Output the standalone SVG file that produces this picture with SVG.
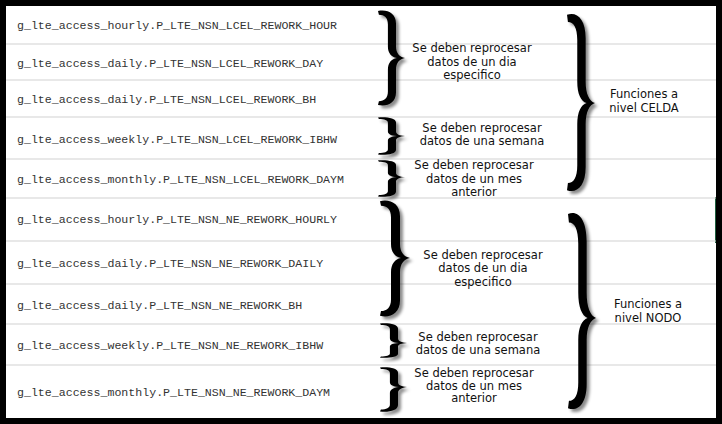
<svg xmlns="http://www.w3.org/2000/svg" xmlns:xlink="http://www.w3.org/1999/xlink" width="722" height="424" viewBox="0 0 722 424">
<style>
.row{font-family:"Liberation Mono","DejaVu Sans Mono",monospace;font-size:11.6px;fill:#333}
.lbl{font-family:"DejaVu Sans","Liberation Sans",sans-serif;font-size:11.5px;fill:#111;text-anchor:middle}
.sep{stroke:#d2d2d2;stroke-width:1.2}
.br{fill:#000}
</style>
<defs>
<filter id="sh" x="-50%" y="-20%" width="200%" height="140%">
<feDropShadow dx="3" dy="3" stdDeviation="1.8" flood-color="#000" flood-opacity="0.45"/>
</filter>
<path id="bu" class="br" d="M0,1 C10,-1 20,3 20,14 L20,38 C20,45 24,49 30,50 L21,50 C15,49 11,45 11,38 L11,15 C11,8 7,5 1,5 Z"/>
<path id="bl" class="br" d="M0,49 C10,51 20,47 20,36 L20,12 C20,5 24,1 30,0 L21,0 C15,1 11,5 11,12 L11,35 C11,42 7,45 1,45 Z"/>
</defs>
<rect x="0" y="0" width="722" height="424" fill="#000"/>
<rect x="6" y="6" width="710" height="412" fill="#fff"/>
<line x1="715.5" y1="197" x2="715.5" y2="243" stroke="#1f5f3f" stroke-width="1"/>

<g id="separators">
<line class="sep" x1="6" y1="44" x2="716" y2="44"/>
<line class="sep" x1="6" y1="80" x2="716" y2="80"/>
<line class="sep" x1="6" y1="117" x2="716" y2="117"/>
<line class="sep" x1="6" y1="159" x2="716" y2="159"/>
<line class="sep" x1="6" y1="198" x2="716" y2="198"/>
<line class="sep" x1="6" y1="241" x2="716" y2="241"/>
<line class="sep" x1="6" y1="284" x2="716" y2="284"/>
<line class="sep" x1="6" y1="324" x2="716" y2="324"/>
<line class="sep" x1="6" y1="365" x2="716" y2="365"/>
</g>

<g id="rows">
<text class="row" x="17" y="29">g_lte_access_hourly.P_LTE_NSN_LCEL_REWORK_HOUR</text>
<text class="row" x="17" y="66.5">g_lte_access_daily.P_LTE_NSN_LCEL_REWORK_DAY</text>
<text class="row" x="17" y="103">g_lte_access_daily.P_LTE_NSN_LCEL_REWORK_BH</text>
<text class="row" x="17" y="142.5">g_lte_access_weekly.P_LTE_NSN_LCEL_REWORK_IBHW</text>
<text class="row" x="17" y="182.5">g_lte_access_monthly.P_LTE_NSN_LCEL_REWORK_DAYM</text>
<text class="row" x="17" y="223">g_lte_access_hourly.P_LTE_NSN_NE_REWORK_HOURLY</text>
<text class="row" x="17" y="266.5">g_lte_access_daily.P_LTE_NSN_NE_REWORK_DAILY</text>
<text class="row" x="17" y="308.5">g_lte_access_daily.P_LTE_NSN_NE_REWORK_BH</text>
<text class="row" x="17" y="348.5">g_lte_access_weekly.P_LTE_NSN_NE_REWORK_IBHW</text>
<text class="row" x="17" y="396">g_lte_access_monthly.P_LTE_NSN_NE_REWORK_DAYM</text>
</g>

<g id="brace-lcel-dia">
<g filter="url(#sh)">
<use xlink:href="#bu" transform="translate(378,10) scale(0.9,0.96)"/>
<use xlink:href="#bl" transform="translate(378,58) scale(0.9,0.96)"/>
</g>
<text class="lbl" x="472" y="52">Se deben reprocesar</text>
<text class="lbl" x="472" y="65.5">datos de un dia</text>
<text class="lbl" x="472" y="79">especifico</text>
</g>

<g id="brace-celda">
<g filter="url(#sh)">
<use xlink:href="#bu" transform="translate(567,13) scale(0.933,1.8)"/>
<use xlink:href="#bl" transform="translate(567,103) scale(0.933,1.78)"/>
</g>
<text class="lbl" x="644" y="98">Funciones a</text>
<text class="lbl" x="644" y="111.5">nivel CELDA</text>
</g>

<g id="brace-lcel-semana">
<g filter="url(#sh)">
<use xlink:href="#bu" transform="translate(378,117) scale(0.9,0.38)"/>
<use xlink:href="#bl" transform="translate(378,136) scale(0.9,0.38)"/>
</g>
<text class="lbl" x="482" y="131.5">Se deben reprocesar</text>
<text class="lbl" x="482" y="145">datos de una semana</text>
</g>

<g id="brace-lcel-mes">
<g filter="url(#sh)">
<use xlink:href="#bu" transform="translate(378,160) scale(0.9,0.34)"/>
<use xlink:href="#bl" transform="translate(378,177) scale(0.9,0.4)"/>
</g>
<text class="lbl" x="474" y="168.5">Se deben reprocesar</text>
<text class="lbl" x="474" y="182.5">datos de un mes</text>
<text class="lbl" x="474" y="196">anterior</text>
</g>

<g id="brace-ne-dia">
<g filter="url(#sh)">
<use xlink:href="#bu" transform="translate(380,200) scale(1,1.16)"/>
<use xlink:href="#bl" transform="translate(380,258) scale(1,1.18)"/>
</g>
<text class="lbl" x="483" y="258.5">Se deben reprocesar</text>
<text class="lbl" x="483" y="272">datos de un dia</text>
<text class="lbl" x="483" y="285.5">especifico</text>
</g>

<g id="brace-nodo">
<g filter="url(#sh)">
<use xlink:href="#bu" transform="translate(568,212) scale(0.933,2.12)"/>
<use xlink:href="#bl" transform="translate(568,318) scale(0.933,1.84)"/>
</g>
<text class="lbl" x="648" y="308">Funciones a</text>
<text class="lbl" x="648" y="321.5">nivel NODO</text>
</g>

<g id="brace-ne-semana">
<g filter="url(#sh)">
<use xlink:href="#bu" transform="translate(380,323) scale(0.9,0.4)"/>
<use xlink:href="#bl" transform="translate(380,343) scale(0.9,0.3)"/>
</g>
<text class="lbl" x="478" y="340.5">Se deben reprocesar</text>
<text class="lbl" x="478" y="353.5">datos de una semana</text>
</g>

<g id="brace-ne-mes">
<g filter="url(#sh)">
<use xlink:href="#bu" transform="translate(380,367) scale(0.9,0.4)"/>
<use xlink:href="#bl" transform="translate(380,387) scale(0.9,0.5)"/>
</g>
<text class="lbl" x="474" y="377">Se deben reprocesar</text>
<text class="lbl" x="474" y="389.5">datos de un mes</text>
<text class="lbl" x="474" y="402">anterior</text>
</g>
</svg>
